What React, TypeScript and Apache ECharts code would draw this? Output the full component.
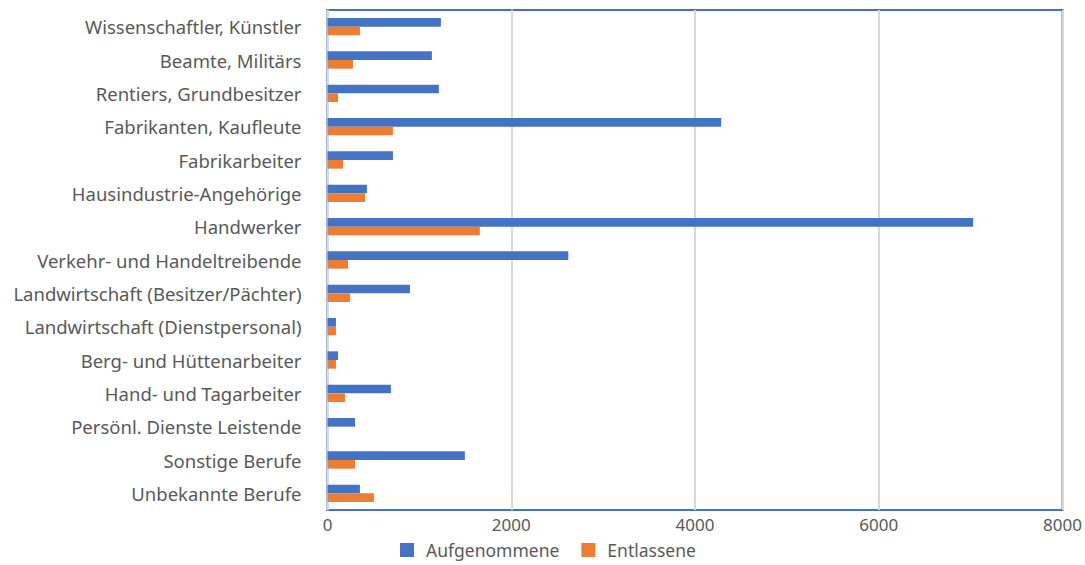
import React, { useEffect, useRef } from "react";
import * as echarts from "echarts";

const categories = [
  "Wissenschaftler, Künstler",
  "Beamte, Militärs",
  "Rentiers, Grundbesitzer",
  "Fabrikanten, Kaufleute",
  "Fabrikarbeiter",
  "Hausindustrie-Angehörige",
  "Handwerker",
  "Verkehr- und Handeltreibende",
  "Landwirtschaft (Besitzer/Pächter)",
  "Landwirtschaft (Dienstpersonal)",
  "Berg- und Hüttenarbeiter",
  "Hand- und Tagarbeiter",
  "Persönl. Dienste Leistende",
  "Sonstige Berufe",
  "Unbekannte Berufe",
];

const aufgenommene = [1234, 1136, 1212, 4285, 712, 429, 7027, 2621, 897, 92, 114, 690, 299, 1495, 353];
const entlassene = [353, 277, 114, 712, 168, 408, 1658, 223, 245, 92, 92, 190, 0, 299, 505];

const seriesNames = ["Aufgenommene", "Entlassene"];
const colors = ["#4472C4", "#ED7D31"];

export default function App() {
  const ref = useRef<HTMLDivElement>(null);
  useEffect(() => {
    if (!ref.current) return;
    const chart = echarts.init(ref.current, undefined, { renderer: "svg" });
    const font = "Noto Sans";
    chart.setOption({
      animation: false,
      color: colors,
      grid: {
        left: 327.5,
        right: 21.5,
        top: 10,
        bottom: 55,
        show: true,
        borderColor: "#4472C4",
        borderWidth: 2,
        containLabel: false,
      },
      legend: {
        top: 538,
        left: 400,
        padding: 0,
        itemWidth: 14,
        itemHeight: 14,
        itemGap: 22,
        itemStyle: { borderWidth: 0 },
        icon: "rect",
        textStyle: { color: "#595959", fontSize: 17.5, fontFamily: font, padding: [0, 0, 0, 7], lineHeight: 24 },
        data: seriesNames,
      },
      xAxis: {
        type: "value",
        min: 0,
        max: 8000,
        interval: 2000,
        axisLine: { show: false },
        axisTick: { show: false },
        splitLine: { show: true, lineStyle: { color: "#D9D9D9", width: 2 } },
        axisLabel: {
          color: "#595959",
          fontSize: 17,
          fontFamily: font,
          margin: 6,
          formatter: (v: number) => String(v),
        },
      },
      yAxis: {
        type: "category",
        data: categories,
        inverse: true,
        axisLine: { show: false },
        axisTick: { show: false },
        splitLine: { show: false },
        axisLabel: { color: "#595959", fontSize: 18.5, fontFamily: font, margin: 26 },
      },
      series: [
        {
          name: seriesNames[0],
          type: "bar",
          data: aufgenommene,
          barGap: "0%",
          barCategoryGap: "48%",
        },
        {
          name: seriesNames[1],
          type: "bar",
          data: entlassene,
          barGap: "0%",
          barCategoryGap: "48%",
        },
      ],
    });
    return () => chart.dispose();
  }, []);
  return (
    <div
      ref={ref}
      style={{ position: "absolute", left: 0, top: 0, width: 1085, height: 565 }}
    />
  );
}
